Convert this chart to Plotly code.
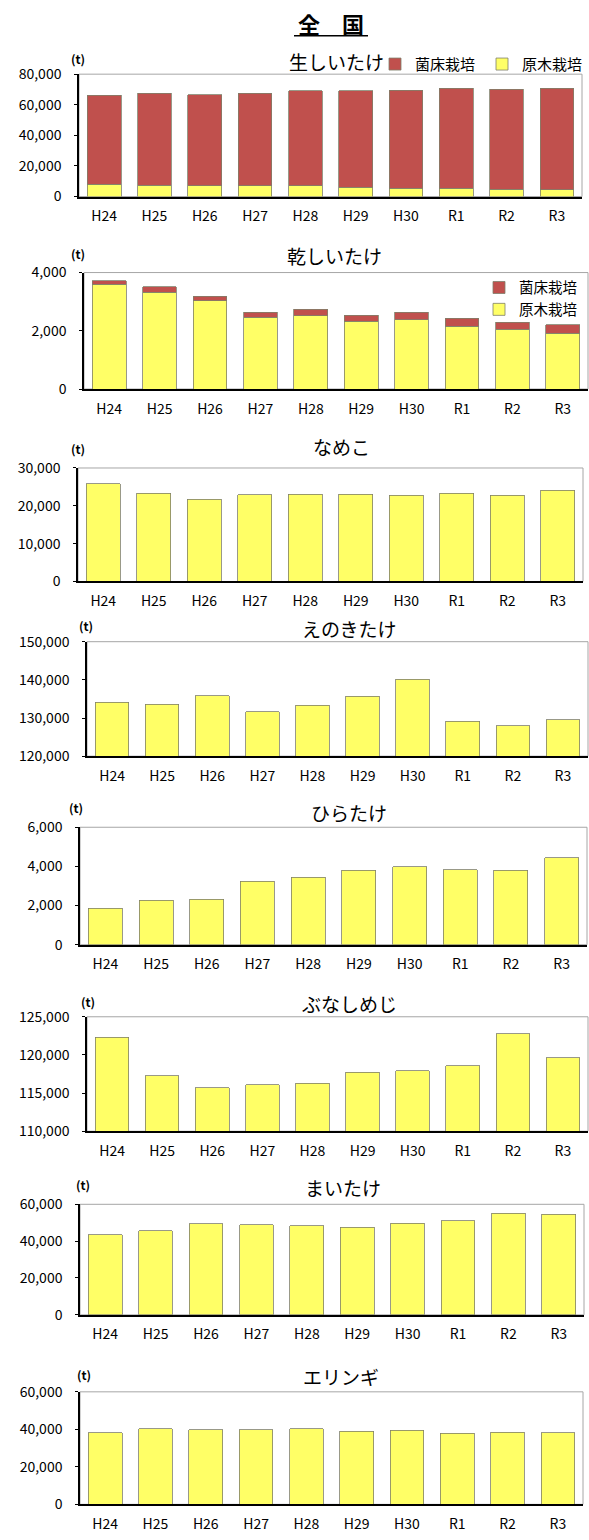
import plotly.graph_objects as go

# 年次
years = ["H24", "H25", "H26", "H27", "H28", "H29", "H30", "R1", "R2", "R3"]

# 生しいたけ (t)
nama_genboku = [8100, 7300, 6900, 7200, 7000, 6200, 5500, 5500, 4900, 4300]
nama_kinsho = [58100, 60200, 59500, 60300, 62000, 62800, 64000, 65300, 65200, 66500]

# 乾しいたけ (t)
kan_genboku = [3590, 3320, 3030, 2460, 2520, 2320, 2380, 2150, 2060, 1920]
kan_kinsho = [120, 190, 150, 180, 220, 220, 260, 280, 240, 290]

# その他 (t)
nameko = [25800, 23300, 21700, 22900, 23000, 23000, 22800, 23300, 22800, 24100]
enokitake = [134100, 133600, 135900, 131700, 133300, 135700, 140100, 129100, 128000, 129600]
hiratake = [1860, 2270, 2320, 3250, 3440, 3800, 3980, 3830, 3800, 4440]
bunashimeji = [122300, 117300, 115700, 116100, 116300, 117700, 117900, 118600, 122800, 119600]
maitake = [43500, 45600, 49400, 48900, 48400, 47600, 49600, 51100, 55100, 54700]
eringi = [38300, 40200, 39700, 39900, 40400, 39000, 39500, 37800, 38500, 38300]

W, H = 589, 1540
RED = "#C0504D"
YELLOW = "#FFFF66"
EDGE = "#7F7F6A"
FONT = "Noto Sans CJK JP"

# 各グラフの枠 (left, right, top, bottom) [px], 見出し位置, (t)位置, y軸
panels = [
    dict(title="生しいたけ", box=(79, 582, 64, 188), tpos=(336, 51), upos=(78, 48), rng=[0, 80000], dtick=20000),
    dict(title="乾しいたけ", box=(84, 588, 265, 383), tpos=(334, 248), upos=(78, 246), rng=[0, 4000], dtick=2000),
    dict(title="なめこ", box=(78, 583, 463, 578), tpos=(341, 441), upos=(78, 443), rng=[0, 30000], dtick=10000),
    dict(title="えのきたけ", box=(87, 588, 639, 755), tpos=(349, 626), upos=(86, 623), rng=[120000, 150000], dtick=10000),
    dict(title="ひらたけ", box=(80, 587, 827, 946), tpos=(349, 812), upos=(76, 807), rng=[0, 6000], dtick=2000),
    dict(title="ぶなしめじ", box=(87, 588, 1019, 1135), tpos=(349, 1006), upos=(88, 1004), rng=[110000, 125000], dtick=5000),
    dict(title="まいたけ", box=(80, 584, 1209, 1321), tpos=(343, 1192), upos=(83, 1189), rng=[0, 60000], dtick=20000),
    dict(title="エリンギ", box=(80, 583, 1399, 1513), tpos=(341, 1383), upos=(84, 1381), rng=[0, 60000], dtick=20000),
]

single = [nameko, enokitake, hiratake, bunashimeji, maitake, eringi]

fig = go.Figure()

bar_line = dict(color=EDGE, width=0.8)

# 生しいたけ
fig.add_trace(go.Bar(x=years, y=nama_genboku, name="原木栽培", marker=dict(color=YELLOW, line=bar_line),
                     xaxis="x", yaxis="y", legend="legend", legendrank=2))
fig.add_trace(go.Bar(x=years, y=nama_kinsho, name="菌床栽培", marker=dict(color=RED, line=bar_line),
                     xaxis="x", yaxis="y", legend="legend", legendrank=1))
# 乾しいたけ
fig.add_trace(go.Bar(x=years, y=kan_genboku, name="原木栽培", marker=dict(color=YELLOW, line=bar_line),
                     xaxis="x2", yaxis="y2", legend="legend2", legendrank=2))
fig.add_trace(go.Bar(x=years, y=kan_kinsho, name="菌床栽培", marker=dict(color=RED, line=bar_line),
                     xaxis="x2", yaxis="y2", legend="legend2", legendrank=1))

for k, vals in enumerate(single):
    n = str(k + 3)
    fig.add_trace(go.Bar(x=years, y=vals, name=panels[k + 2]["title"], marker=dict(color=YELLOW, line=bar_line),
                         xaxis="x" + n, yaxis="y" + n, showlegend=False))

layout = dict(
    width=W, height=H,
    margin=dict(l=0, r=0, t=0, b=0),
    paper_bgcolor="white", plot_bgcolor="white",
    barmode="stack", bargap=0.33,
    font=dict(family=FONT, size=14, color="black"),
    showlegend=True,
    legend=dict(orientation="h", x=589 / W, xanchor="right", y=1 - 54 / H, yanchor="middle",
                traceorder="normal", bgcolor="rgba(0,0,0,0)", font=dict(size=15),
                itemwidth=30, entrywidth=62, entrywidthmode="pixels"),
    legend2=dict(orientation="v", x=582 / W, xanchor="right", y=1 - 264 / H, yanchor="top",
                 traceorder="normal", bgcolor="rgba(0,0,0,0)", font=dict(size=14.5),
                 itemwidth=30, tracegroupgap=0),
)

annotations = []
shapes = []
for i, p in enumerate(panels):
    n = "" if i == 0 else str(i + 1)
    l, r, t, b = p["box"]
    layout["xaxis" + n] = dict(domain=[l / W, r / W], anchor="y" + n, showline=True, linecolor="black",
                               linewidth=1.5, ticks="", showgrid=False, tickfont=dict(size=14),
                               ticklabelstandoff=6, fixedrange=True)
    layout["yaxis" + n] = dict(domain=[1 - b / H, 1 - t / H], anchor="x" + n, range=p["rng"], dtick=p["dtick"],
                               tickformat=",", showline=True, linecolor="black", linewidth=1.5,
                               showgrid=False, zeroline=False, ticks="outside", ticklen=3, tickcolor="black",
                               tickfont=dict(size=14), ticklabelstandoff=10, fixedrange=True)
    shapes.append(dict(type="rect", xref="x" + n + " domain", yref="y" + n + " domain",
                       x0=0, x1=1, y0=0, y1=1, line=dict(color="#A6A6A6", width=1), layer="below"))
    annotations.append(dict(text=p["title"], x=p["tpos"][0] / W, y=1 - p["tpos"][1] / H, xref="paper",
                            yref="paper", xanchor="center", yanchor="middle", showarrow=False,
                            font=dict(size=19)))
    annotations.append(dict(text="<b>(t)</b>", x=p["upos"][0] / W, y=1 - p["upos"][1] / H, xref="paper",
                            yref="paper", xanchor="center", yanchor="middle", showarrow=False,
                            font=dict(size=12)))

# 全国 見出し
annotations.append(dict(text="<b>全　国</b>", x=331 / W, y=1 - 12 / H, xref="paper", yref="paper",
                        xanchor="center", yanchor="middle", showarrow=False, font=dict(size=22)))
shapes.append(dict(type="line", xref="paper", yref="paper", x0=294 / W, x1=368 / W,
                   y0=1 - 25 / H, y1=1 - 25 / H, line=dict(color="black", width=1.5)))

layout["annotations"] = annotations
layout["shapes"] = shapes
fig.update_layout(**layout)

fig.write_html("out.html", config={"displayModeBar": False},
               post_script="document.body.style.margin='0';")
